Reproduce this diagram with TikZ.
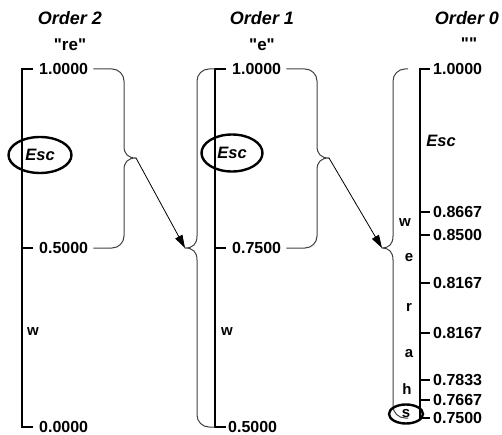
\documentclass[tikz,border=0pt]{standalone}
\usepackage{fontspec}
\setmainfont{Liberation Sans}[Ligatures=TeXOff]
\usetikzlibrary{arrows.meta,shapes.geometric}
\begin{document}
\begin{tikzpicture}[x=1pt,y=-1pt,
  axis/.style={line width=1.6pt, line join=miter},
  brc/.style={line width=1pt, draw=black!75, line join=round},
  arr/.style={line width=0.8pt, -{Triangle[length=13pt,width=8pt]}},
  lbl/.style={font=\fontsize{16}{18}\selectfont\bfseries, inner xsep=5pt, inner ysep=0pt, anchor=west},
  ttl/.style={font=\fontsize{18}{20}\selectfont\bfseries\itshape, inner sep=0pt},
  qt/.style={font=\fontsize{17}{19}\selectfont\bfseries, inner sep=0pt},
  sym/.style={font=\fontsize{15}{17}\selectfont\bfseries, inner sep=0pt},
  esc/.style={font=\fontsize{16.5}{18}\selectfont\bfseries\itshape, inner sep=0pt},
  ell/.style={ellipse, draw, line width=2.4pt, inner sep=0pt}]
\useasboundingbox (0,0) rectangle (502,435);

% titles
\node[ttl] (o2) at (70,18) {Order 2};
\node[qt]  (q2) at (70,45) {"re"};
\node[ttl] (o1) at (262,18) {Order 1};
\node[qt]  (q1) at (262,45) {"e"};
\node[ttl] (o0) at (467,18) {Order 0};
\node[qt]  (q0) at (469,44) {""};

% labels order 2
\node[lbl] (a2t) at (34,69) {1.0000};
\node[lbl] (a2m) at (34,248) {0.5000};
\node[lbl] (a2b) at (34,427) {0.0000};
% labels order 1
\node[lbl] (a1t) at (227,69) {1.0000};
\node[lbl] (a1m) at (227,248) {0.7500};
\node[lbl] (a1b) at (223,427) {0.5000};
% labels order 0
\node[lbl] (b1) at (428,69) {1.0000};
\node[lbl] (b2) at (428,212) {0.8667};
\node[lbl] (b3) at (428,235) {0.8500};
\node[lbl] (b4) at (428,283) {0.8167};
\node[lbl] (b5) at (428,333) {0.8167};
\node[lbl] (b6) at (428,380) {0.7833};
\node[lbl] (b7) at (428,400) {0.7667};
\node[lbl] (b8) at (428,418) {0.7500};

% axes
\draw[axis] (33,69) -- (22,69) -- (22,427) -- (33,427);
\draw[axis] (22,248) -- (33,248);
\draw[axis] (226,69) -- (215,69) -- (215,427) -- (226,427);
\draw[axis] (215,248) -- (226,248);
\draw[axis] (430,69) -- (420,69) -- (420,418) -- (430,418);
\foreach \yy in {212,235,283,333,380,400} \draw[axis] (420,\yy) -- (430,\yy);

% brace tips
\coordinate (t2) at (136,158);
\coordinate (t1) at (185,248);
\coordinate (t1r) at (329,158);
\coordinate (t0) at (382,248);

% order 2 right brace
\draw[brc] (a2t.east) -- (112,69) .. controls (118.6,69) and (124,74.4) .. (124,81)
  -- (124,146) .. controls (124,154) and (128,158) .. (t2)
  .. controls (128,158) and (124,162) .. (124,170)
  -- (124,236) .. controls (124,242.6) and (118.6,248) .. (112,248) -- (a2m.east);
% order 1 left brace
\draw[brc] (215,69) -- (209,69) .. controls (202.4,69) and (197,74.4) .. (197,81)
  -- (197,236) .. controls (197,244) and (193,248) .. (t1)
  .. controls (193,248) and (197,252) .. (197,260)
  -- (197,415) .. controls (197,421.6) and (202.4,427) .. (209,427) -- (215,427);
% order 1 right brace
\draw[brc] (a1t.east) -- (305,69) .. controls (311.6,69) and (317,74.4) .. (317,81)
  -- (317,146) .. controls (317,154) and (321,158) .. (t1r)
  .. controls (321,158) and (317,162) .. (317,170)
  -- (317,236) .. controls (317,242.6) and (311.6,248) .. (305,248) -- (a1m.east);
% order 0 left brace
\draw[brc] (408,69) -- (405,69) .. controls (398.4,69) and (393,74.4) .. (393,81)
  -- (393,236) .. controls (393,244) and (389,248) .. (t0)
  .. controls (389,248) and (393,252) .. (393,260)
  -- (393,406) .. controls (393,412.6) and (398.4,418) .. (405,418) -- (408,418);

% arrows
\draw[arr] (t2) -- (t1);
\draw[arr] (t1r) -- (t0);

% Esc
\node[ell, esc, minimum width=63pt, minimum height=36pt] (e2) at (40,155) {Esc};
\node[ell, esc, minimum width=61pt, minimum height=37pt] (e1) at (232,153) {Esc};
\node[esc] (e0) at (441,141) {Esc};

% symbols
\node[sym] (w2) at (33,332) {w};
\node[sym] (w1) at (227,332) {w};
\node[sym] (cw) at (405,223) {w};
\node[sym] (ce) at (409,258) {e};
\node[sym] (cr) at (409,307) {r};
\node[sym] (ca) at (409,354) {a};
\node[sym] (ch) at (407,389) {h};
\node[ell, sym, minimum width=34pt, minimum height=19pt] (cs) at (406,414) {s};
\end{tikzpicture}
\end{document}
